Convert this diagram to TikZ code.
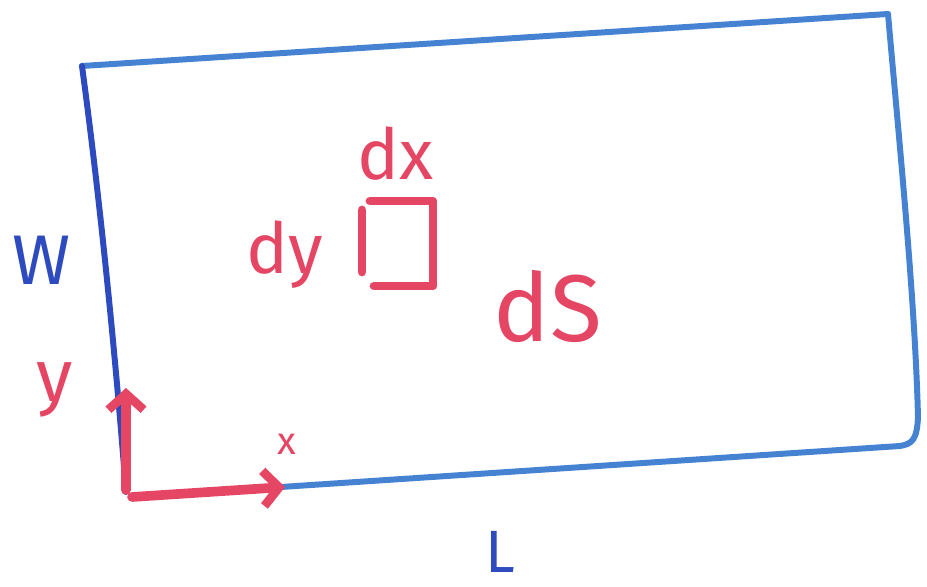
\documentclass[tikz,border=0pt]{standalone}
\usepackage{fontspec}
\setmainfont{Fira Sans}
\usetikzlibrary{arrows.meta}
\definecolor{penblue}{RGB}{45,75,190}
\definecolor{lightblue}{RGB}{70,130,210}
\definecolor{penred}{RGB}{228,70,100}
\tikzset{
  edgeline/.style={line width=3.4pt, line cap=round, line join=round},
  redline/.style={draw=penred, line width=5.5pt, line cap=round, line join=round},
  redlabel/.style={text=penred, inner sep=0pt},
  bluelabel/.style={text=penblue, inner sep=0pt},
  axisarrow/.style={redline, -{Straight Barb[length=9pt,width=20pt,line width=5pt]}}
}
\begin{document}
\begin{tikzpicture}[x=0.02cm,y=-0.02cm]
\useasboundingbox (0,0) rectangle (927,587);
% rectangle corners
\coordinate (tl) at (82,66);
\coordinate (tr) at (888,14);
\coordinate (br) at (918,438);
\coordinate (bl) at (126,492);
\draw[edgeline, draw=lightblue] (tl) -- (tr);
\draw[edgeline, draw=lightblue] (tr) .. controls (900,150) and (915,300) .. ([yshift=12]br) .. controls (917,440) and (912,444) .. (900,446);
\draw[edgeline, draw=lightblue] (900,446) -- (145,496);
\draw[edgeline, draw=penblue] (tl) .. controls (100,200) and (115,350) .. (bl);
% axes
\coordinate (o) at (126,490);
\coordinate (yend) at (126,388);
\coordinate (xo) at (132,497);
\coordinate (xend) at (285,487);
\draw[axisarrow] (o) -- (yend);
\draw[axisarrow] (xo) -- (xend);
% small square
\coordinate (s1) at (370,201);
\coordinate (s2) at (433,201);
\coordinate (s3) at (433,286);
\coordinate (s4) at (374,286);
\draw[redline, line width=5pt] (s1) -- (s2) -- (s3) -- (s4);
\draw[redline, line width=5pt] (362,210) -- (362,272);
% labels
\node[redlabel, font=\fontsize{40}{40}\selectfont] (dx) at (396,154) {dx};
\node[redlabel, font=\fontsize{40}{40}\selectfont] (dy) at (285,255) {dy};
\node[redlabel, font=\fontsize{54}{54}\selectfont] (dS) at (548,306) {dS};
\node[redlabel, font=\fontsize{42}{42}\selectfont] (ylab) at (55,390) {y};
\node[redlabel, font=\fontsize{22}{22}\selectfont] (xlab) at (287,444) {x};
\node[bluelabel, font=\fontsize{40}{40}\selectfont] (W) at (42,260) {W};
\node[bluelabel, font=\fontsize{34}{34}\selectfont] (L) at (500,552) {L};
\end{tikzpicture}
\end{document}
